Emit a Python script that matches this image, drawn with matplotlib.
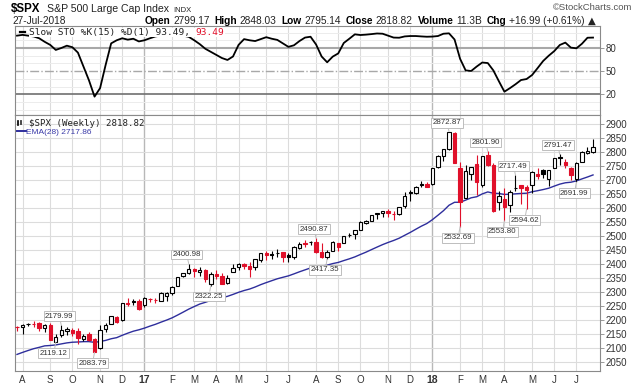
import matplotlib
matplotlib.use('Agg')
import matplotlib.pyplot as plt
import numpy as np
import pandas as pd
from matplotlib.patches import Rectangle

# ---------------- data ----------------
week_start = pd.date_range('2016-07-25', periods=105, freq='7D')  # Monday of each week
prev_close_first = 2175.03

opens = [2175.10, 2173.15, 2183.74, 2186.08, 2187.90, 2170.19, 2181.61, 2120.86, 2143.99, 2158.54,
         2164.33, 2160.39, 2132.55, 2148.50, 2129.78, 2100.59, 2165.64, 2186.43, 2210.21, 2200.17,
         2258.83, 2266.50, 2266.23, 2251.57, 2273.59, 2269.14, 2267.78, 2286.01, 2294.28, 2321.72,
         2354.91, 2366.23, 2381.92, 2371.54, 2378.24, 2329.11, 2363.00, 2357.16, 2332.62, 2370.33,
         2388.50, 2399.94, 2393.98, 2387.21, 2414.50, 2437.83, 2436.39, 2437.00, 2442.55, 2431.39,
         2424.51, 2458.00, 2473.00, 2477.10, 2478.35, 2441.04, 2425.50, 2447.00, 2474.00, 2474.52,
         2502.51, 2505.00, 2521.20, 2547.00, 2553.00, 2578.00, 2583.00, 2588.00, 2577.00, 2579.00,
         2605.00, 2657.00, 2652.00, 2685.00, 2684.00, 2683.73, 2745.00, 2784.00, 2809.00, 2867.23,
         2741.06, 2636.75, 2722.00, 2757.00, 2681.00, 2790.00, 2752.00, 2619.35, 2633.45, 2610.39,
         2670.00, 2680.80, 2675.47, 2680.44, 2722.70, 2735.39, 2705.00, 2741.67, 2782.00, 2765.00,
         2742.94, 2704.95, 2765.79, 2796.93, 2799.17]
highs = [2178.29, 2185.44, 2188.45, 2193.81, 2193.42, 2184.87, 2187.87, 2150.80, 2179.99, 2175.30,
         2169.60, 2169.60, 2148.44, 2154.79, 2133.25, 2182.30, 2189.89, 2213.35, 2214.10, 2259.80,
         2277.53, 2273.82, 2273.82, 2282.10, 2279.27, 2276.96, 2300.99, 2300.00, 2319.23, 2351.31,
         2368.26, 2400.98, 2383.89, 2390.01, 2382.36, 2370.00, 2378.36, 2366.37, 2361.37, 2398.16,
         2401.36, 2403.87, 2405.77, 2418.71, 2440.23, 2446.20, 2446.20, 2453.82, 2442.97, 2439.00,
         2463.54, 2477.62, 2484.04, 2480.38, 2490.87, 2474.93, 2450.38, 2480.00, 2475.00, 2500.23,
         2508.85, 2519.44, 2552.51, 2557.65, 2575.44, 2582.98, 2588.40, 2597.02, 2590.00, 2604.21,
         2657.74, 2665.19, 2679.63, 2694.97, 2692.12, 2743.45, 2787.85, 2810.33, 2872.87, 2870.05,
         2763.39, 2754.42, 2747.76, 2789.15, 2786.57, 2801.90, 2761.85, 2659.07, 2672.08, 2665.45,
         2717.49, 2683.55, 2682.86, 2732.86, 2742.24, 2739.19, 2736.93, 2779.90, 2791.47, 2774.99,
         2746.09, 2764.41, 2804.53, 2816.76, 2848.03]
lows = [2159.07, 2147.58, 2177.85, 2175.50, 2160.39, 2157.09, 2127.81, 2119.12, 2139.17, 2145.04,
        2142.63, 2114.72, 2124.43, 2125.35, 2083.79, 2097.00, 2156.08, 2183.73, 2187.44, 2195.00,
        2248.44, 2253.00, 2233.62, 2245.13, 2264.06, 2258.81, 2266.00, 2267.21, 2287.00, 2321.00,
        2352.00, 2363.00, 2354.00, 2356.00, 2335.00, 2322.25, 2344.00, 2328.95, 2328.00, 2370.00,
        2378.00, 2381.00, 2352.72, 2379.00, 2407.00, 2415.00, 2419.00, 2426.00, 2405.70, 2407.70,
        2419.00, 2452.00, 2459.93, 2466.00, 2437.75, 2420.69, 2417.35, 2446.00, 2446.00, 2474.00,
        2496.00, 2488.00, 2521.00, 2542.00, 2552.00, 2560.00, 2566.00, 2566.00, 2557.45, 2575.00,
        2601.00, 2624.00, 2650.00, 2676.00, 2673.00, 2682.00, 2743.00, 2768.00, 2808.00, 2759.00,
        2532.69, 2636.00, 2699.00, 2647.49, 2675.00, 2749.00, 2585.89, 2593.00, 2553.80, 2586.27,
        2660.00, 2612.67, 2594.62, 2655.00, 2701.91, 2707.00, 2676.81, 2741.00, 2753.00, 2742.00,
        2698.67, 2691.99, 2764.00, 2794.00, 2795.14]
closes = [2173.60, 2182.87, 2184.05, 2183.87, 2169.04, 2179.98, 2127.81, 2139.16, 2164.69, 2168.27,
          2153.74, 2132.98, 2141.16, 2126.41, 2085.18, 2164.45, 2181.90, 2213.35, 2191.95, 2259.53,
          2258.07, 2263.79, 2238.83, 2276.98, 2274.64, 2271.31, 2294.69, 2297.42, 2316.10, 2351.16,
          2367.34, 2383.12, 2372.60, 2378.25, 2343.98, 2362.72, 2355.54, 2328.95, 2348.69, 2384.20,
          2399.29, 2390.90, 2381.73, 2415.82, 2439.07, 2431.77, 2433.15, 2438.30, 2423.41, 2425.18,
          2459.27, 2472.54, 2472.10, 2476.83, 2441.32, 2425.55, 2443.05, 2476.55, 2461.43, 2500.23,
          2502.22, 2519.36, 2549.33, 2553.17, 2575.21, 2581.07, 2587.84, 2582.30, 2578.85, 2602.42,
          2642.22, 2651.50, 2675.81, 2683.34, 2673.61, 2743.15, 2786.24, 2810.30, 2872.87, 2762.13,
          2619.55, 2732.22, 2747.30, 2691.25, 2786.57, 2752.01, 2588.26, 2640.87, 2604.47, 2656.30,
          2670.14, 2669.91, 2663.42, 2727.72, 2712.97, 2721.33, 2734.62, 2779.03, 2779.66, 2754.88,
          2718.37, 2759.82, 2801.31, 2801.83, 2818.82]
ema28 = [2076.0, 2083.2, 2090.0, 2096.4, 2101.3, 2106.6, 2107.9, 2109.9, 2113.6, 2117.2,
         2119.6, 2120.4, 2121.7, 2121.8, 2119.1, 2122.1, 2126.1, 2132.0, 2136.0, 2144.4,
         2152.0, 2159.0, 2164.0, 2170.0, 2177.2, 2183.7, 2191.4, 2198.7, 2206.8, 2216.8,
         2227.2, 2237.9, 2247.2, 2256.2, 2262.3, 2269.2, 2275.2, 2278.9, 2283.7, 2290.6,
         2298.1, 2304.5, 2309.8, 2317.1, 2325.5, 2332.8, 2339.7, 2346.5, 2351.8, 2356.9,
         2364.0, 2371.5, 2378.4, 2385.2, 2389.1, 2391.6, 2395.2, 2400.8, 2405.0, 2411.6,
         2417.8, 2424.8, 2433.4, 2441.6, 2450.8, 2459.8, 2468.6, 2476.4, 2483.5, 2491.6,
         2502.0, 2512.3, 2523.6, 2534.6, 2544.2, 2557.9, 2573.7, 2590.0, 2609.5, 2620.1,
         2620.1, 2627.8, 2636.1, 2639.9, 2650.0, 2657.1, 2652.3, 2651.5, 2648.2, 2648.8,
         2650.3, 2651.7, 2652.5, 2657.7, 2661.5, 2665.6, 2670.4, 2677.9, 2685.0, 2689.8,
         2691.8, 2696.5, 2703.7, 2710.5, 2717.86]
sto_k = [96, 97, 96, 95, 92.6, 88, 84, 77.5, 80, 83,
         81, 74, 56, 38, 17, 28, 58, 86, 90, 92.6,
         90.8, 92, 88.5, 90, 92.6, 95, 96, 97, 98, 97,
         96, 94.5, 90, 85, 79, 75, 71, 67, 64.5, 69,
         84, 91.5, 90, 89, 91.5, 94, 92, 90.5, 86, 81.5,
         83.5, 89, 93.5, 94.6, 84.5, 69, 61.5, 68.8, 73, 86.5,
         92, 97.7, 96.8, 97.3, 98, 98.8, 98.5, 96, 93.5, 93.3,
         95, 95.5, 95.5, 95, 94.6, 94.8, 95.5, 98.5, 99, 91,
         66, 51, 50.2, 56, 61.2, 60.5, 51, 37, 23.4, 28,
         33, 38.5, 39.8, 45, 54, 63.2, 70, 76, 83.9, 87,
         80.5, 79.6, 85.5, 93.3, 93.49]

price_ticks = list(range(2050, 2901, 50))
sto_ticks = [20, 50, 80]
month_letters = 'JFMAMJJASOND'

hi_labels = [(8, 2179.99), (31, 2400.98), (54, 2490.87), (78, 2872.87), (85, 2801.90), (90, 2717.49), (98, 2791.47)]
lo_labels = [(7, 2119.12), (14, 2083.79), (35, 2322.25), (56, 2417.35), (80, 2532.69), (88, 2553.80), (92, 2594.62), (101, 2691.99)]

# ---------------- style ----------------
RED = '#e0102a'
GRID = '#dcdcdc'
TXT = '#222222'
W, H = 640, 385
FONT = ['Liberation Sans', 'DejaVu Sans']
MONO = ['DejaVu Sans Mono']

fig = plt.figure(figsize=(6.4, 3.85), dpi=100)
fig.patch.set_facecolor('white')

ax_s = fig.add_axes([15 / W, 1 - 115 / H, 585 / W, (115 - 26) / H])
ax = fig.add_axes([15 / W, 1 - 371 / H, 585 / W, (371 - 115) / H])

n = len(closes)
idx = np.arange(n)
xlim = (-0.361, 105.26)

months = week_start.month
month_idx = [i for i in range(1, n) if months[i] != months[i - 1]]
month_lab = []
for i in month_idx:
    m = week_start[i].month
    if m == 1:
        month_lab.append(str(week_start[i].year)[2:])
    else:
        month_lab.append(month_letters[m - 1])

for a in (ax, ax_s):
    a.set_xlim(*xlim)
    for i in month_idx:
        yr = week_start[i].month == 1
        a.axvline(i, color='#b8b8b8' if yr else GRID, lw=1.0 if yr else 0.8, zorder=0)
    for sp in a.spines.values():
        sp.set_color('#8a8a8a')
        sp.set_linewidth(0.8)

# ---------------- STO panel ----------------
ax_s.set_ylim(-6.8, 108.5)
for lv in range(0, 101, 10):
    if lv not in (20, 50, 80):
        ax_s.axhline(lv, color='#ececec', lw=0.7, zorder=0)
ax_s.axhline(80, color='#a8a8a8', lw=1.5, zorder=1)
ax_s.axhline(50, color='#a8a8a8', lw=1.0, ls='-.', zorder=1)
ax_s.axhline(20, color='#707070', lw=1.2, zorder=1)
ax_s.plot(idx, sto_k, color='black', lw=1.3, zorder=3)
ax_s.set_xticks([])
ax_s.yaxis.tick_right()
ax_s.set_yticks(sto_ticks)
ax_s.set_yticklabels([str(t) for t in sto_ticks], fontsize=7, color='#333333', family=FONT)
ax_s.tick_params(axis='y', length=3, width=0.6, color='#8a8a8a', pad=1)

# ---------------- price panel ----------------
ax.set_ylim(2016.7, 2932.2)
for p in price_ticks:
    ax.axhline(p, color=GRID, lw=0.8, zorder=0)

bw = 0.62
for i in range(n):
    o, h, l, c = opens[i], highs[i], lows[i], closes[i]
    pc = prev_close_first if i == 0 else closes[i - 1]
    col = 'black' if c >= pc else RED
    ax.plot([i, i], [l, h], color=col, lw=0.8, zorder=3, solid_capstyle='butt')
    lo_b, hi_b = min(o, c), max(o, c)
    hgt = max(hi_b - lo_b, 0.6)
    face = 'white' if c >= o else col
    ax.add_patch(Rectangle((i - bw / 2, lo_b), bw, hgt, facecolor=face, edgecolor=col,
                           lw=0.8, zorder=4))

ax.plot(idx, ema28, color='#2e2e9c', lw=1.0, zorder=2)

lab_kw = dict(textcoords='offset pixels', ha='center', va='center', fontsize=5.7, color='#333333',
              family=FONT, zorder=6,
              bbox=dict(boxstyle='square,pad=0.18', fc='white', ec='#bdbdbd', lw=0.7),
              arrowprops=dict(arrowstyle='-', color='#bdbdbd', lw=0.7, shrinkA=0, shrinkB=0))
for i, v in hi_labels:
    ax.annotate(f'{v:.2f}', xy=(i, v), xytext=(-2, 9), **lab_kw)
for i, v in lo_labels:
    ax.annotate(f'{v:.2f}', xy=(i, v), xytext=(-2, -11), **lab_kw)

ax.yaxis.tick_right()
ax.set_yticks(price_ticks)
ax.set_yticklabels([str(t) for t in price_ticks], fontsize=7, color='#333333', family=FONT)
ax.tick_params(axis='y', length=3, width=0.6, color='#8a8a8a', pad=1)
ax.set_xticks(month_idx)
ax.set_xticklabels(month_lab, fontsize=7, color='#333333', family=FONT)
for t, lab in zip(ax.get_xticklabels(), month_lab):
    if lab.isdigit():
        t.set_fontweight('bold')
        t.set_fontsize(7.5)
ax.tick_params(axis='x', length=0, pad=3)

# ---------------- texts ----------------
fig.canvas.draw()
r = fig.canvas.get_renderer()


def seq(x, y, pieces, size, bg=False):
    for txt, wt, col, fam, g in pieces:
        kw = {}
        if bg:
            kw['bbox'] = dict(boxstyle='square,pad=0.05', fc='white', ec='none')
        t = fig.text(x / W, 1 - y / H, txt, fontsize=size, fontweight=wt, color=col,
                     family=fam, ha='left', va='baseline', zorder=10, **kw)
        bb = t.get_window_extent(renderer=r)
        x += bb.width + g
    return x


seq(11, 11.5, [('$SPX', 'bold', 'black', FONT, 4)], 8.3)
seq(47, 11.5, [('S&P 500 Large Cap Index', 'normal', TXT, FONT, 3)], 7.6)
fig.text(173 / W, 1 - 11.5 / H, 'INDX', fontsize=5.5, color=TXT, family=FONT, va='baseline')
fig.text(12 / W, 1 - 24 / H, '27-Jul-2018', fontsize=7.3, color=TXT, family=FONT, va='baseline')
fig.text(632 / W, 1 - 9.5 / H, '\u00a9StockCharts.com', fontsize=6.8, color='#555555', family=FONT,
         ha='right', va='baseline')

hdr = [('Open', 'bold', 'black', FONT, 2.5), ('2799.17', 'normal', TXT, FONT, 5),
       ('High', 'bold', 'black', FONT, 2.5), ('2848.03', 'normal', TXT, FONT, 5),
       ('Low', 'bold', 'black', FONT, 2.5), ('2795.14', 'normal', TXT, FONT, 5),
       ('Close', 'bold', 'black', FONT, 2.5), ('2818.82', 'normal', TXT, FONT, 5),
       ('Volume', 'bold', 'black', FONT, 2.5), ('11.3B', 'normal', TXT, FONT, 5),
       ('Chg', 'bold', 'black', FONT, 2.5), ('+16.99 (+0.61%)', 'normal', TXT, FONT, 3),
       ('\u25b2', 'normal', TXT, ['DejaVu Sans'], 0)]
seq(145, 24, hdr, 7.3)

# STO legend (drawn over a white background that hides the line beneath)
fig.add_artist(plt.Line2D([20 / W, 25 / W], [1 - 31.5 / H, 1 - 31.5 / H], color='black', lw=1.6,
                          zorder=11))
seq(29, 35, [('Slow STO %K(15) %D(1) 93.49, ', 'normal', TXT, MONO, 0),
             ('93.49', 'normal', RED, MONO, 0)], 6.8, bg=True)

# price legend
fig.add_artist(Rectangle((16.5 / W, 1 - 125 / H), 1.8 / W, 5 / H, transform=fig.transFigure,
                         facecolor='black', edgecolor='black', lw=0.5))
fig.add_artist(Rectangle((19.5 / W, 1 - 124 / H), 1.8 / W, 4 / H, transform=fig.transFigure,
                         facecolor='white', edgecolor='black', lw=0.5))
seq(29, 126, [('$SPX (Weekly) 2818.82', 'normal', TXT, MONO, 0)], 6.6)
fig.add_artist(plt.Line2D([17 / W, 25.5 / W], [1 - 131 / H, 1 - 131 / H], color='#2e2e9c', lw=1.4))
seq(26.5, 134.5, [('EMA(28) 2717.86', 'normal', '#3a3aa8', FONT, 0)], 6.0)

fig.savefig('out.png', dpi=100, facecolor='white')
